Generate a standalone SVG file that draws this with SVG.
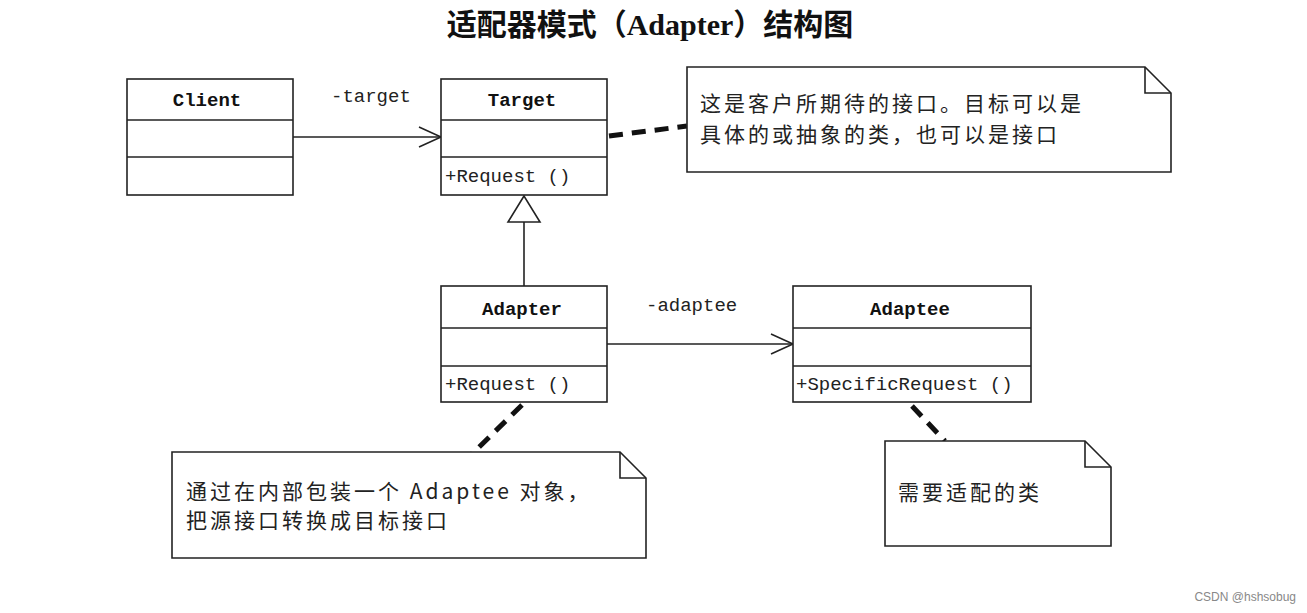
<svg xmlns="http://www.w3.org/2000/svg" width="1307" height="613" viewBox="0 0 1307 613">
<style>
.b{fill:#fff;stroke:#222;stroke-width:1.6}
.l{stroke:#222;stroke-width:1.6;fill:none}
.d{stroke:#111;stroke-width:5;stroke-dasharray:14,9;fill:none}
.n{font-family:"Liberation Mono","Noto Sans CJK SC",monospace;font-weight:bold;font-size:19px;text-anchor:middle;fill:#111}
.m{font-family:"Liberation Mono","Noto Sans CJK SC",monospace;font-size:19px;fill:#222}
.c{font-family:"Noto Sans CJK SC",sans-serif;font-size:21px;letter-spacing:3px;fill:#222}
</style>
<defs><marker id="a" markerWidth="26" markerHeight="26" refX="24" refY="12" orient="auto" markerUnits="userSpaceOnUse"><path d="M2,2 L24,12 L2,22" fill="none" stroke="#222" stroke-width="1.6"/></marker></defs>
<rect width="1307" height="613" fill="#fff"/>
<text x="650" y="35" font-family="Liberation Serif,'Noto Sans CJK SC',serif" font-weight="bold" font-size="30" text-anchor="middle" fill="#111">适配器模式（Adapter）结构图</text>
<g id="connectors">
<line class="l" x1="293" y1="137" x2="441" y2="137" marker-end="url(#a)"/>
<text class="m" x="331" y="102">-target</text>
<line class="l" x1="607" y1="344" x2="793" y2="344" marker-end="url(#a)"/>
<text class="m" x="646" y="311">-adaptee</text>
<line class="l" x1="524" y1="222" x2="524" y2="286"/>
<path class="l" d="M524,196 L508,222 L540,222 Z" fill="#fff"/>
<line class="d" x1="609" y1="136" x2="687" y2="126"/>
<line class="d" x1="522" y1="405" x2="470" y2="456"/>
<line class="d" x1="912" y1="406" x2="945" y2="441"/>
</g>
<g id="client"><rect class="b" x="127" y="79" width="166" height="116"/><line class="l" x1="127" y1="120" x2="293" y2="120"/><line class="l" x1="127" y1="157" x2="293" y2="157"/><text class="n" x="207" y="106">Client</text></g>
<g id="target"><rect class="b" x="441" y="79" width="166" height="116"/><line class="l" x1="441" y1="120" x2="607" y2="120"/><line class="l" x1="441" y1="157" x2="607" y2="157"/><text class="n" x="522" y="106">Target</text><text class="m" x="445" y="182">+Request ()</text></g>
<g id="adapter"><rect class="b" x="441" y="286" width="166" height="116"/><line class="l" x1="441" y1="328" x2="607" y2="328"/><line class="l" x1="441" y1="366" x2="607" y2="366"/><text class="n" x="522" y="315">Adapter</text><text class="m" x="445" y="390">+Request ()</text></g>
<g id="adaptee"><rect class="b" x="793" y="286" width="238" height="116"/><line class="l" x1="793" y1="328" x2="1031" y2="328"/><line class="l" x1="793" y1="366" x2="1031" y2="366"/><text class="n" x="910" y="315">Adaptee</text><text class="m" x="796" y="390">+SpecificRequest ()</text></g>
<g id="note1"><path class="b" d="M687,67 H1145 L1171,93 V172 H687 Z"/><path class="l" d="M1145,67 V93 H1171"/><text class="c" x="700" y="111">这是客户所期待的接口。目标可以是</text><text class="c" x="700" y="142">具体的或抽象的类，也可以是接口</text></g>
<g id="note2"><path class="b" d="M172,452 H620 L646,478 V558 H172 Z"/><path class="l" d="M620,452 V478 H646"/><text class="c" x="186" y="499" letter-spacing="1">通过在内部包装一个 Adaptee 对象，</text><text class="c" x="186" y="528">把源接口转换成目标接口</text></g>
<g id="note3"><path class="b" d="M885,441 H1085 L1111,467 V546 H885 Z"/><path class="l" d="M1085,441 V467 H1111"/><text class="c" x="898" y="500">需要适配的类</text></g>
<text x="1296" y="601" font-family="Liberation Sans,sans-serif" font-size="12" text-anchor="end" fill="#888">CSDN @hshsobug</text>
</svg>
